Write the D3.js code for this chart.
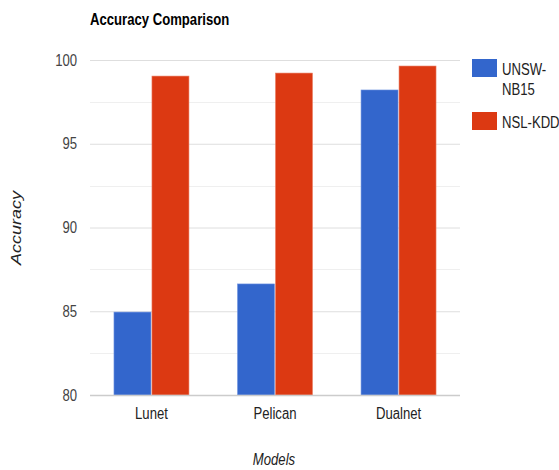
<!DOCTYPE html>
<html>
<head>
<meta charset="utf-8">
<script src="https://cdn.jsdelivr.net/npm/d3@7"></script>
<style>
  html, body { margin: 0; padding: 0; background: #fff; }
  svg { display: block; font-family: "Liberation Sans", Arial, sans-serif; }
</style>
</head>
<body>
<svg id="chart" width="559" height="470"></svg>
<script>
// Model names along the x axis
const models = ["Lunet", "Pelican", "Dualnet"];
// Series names and accuracy values (%)
const seriesNames = ["UNSW-NB15", "NSL-KDD"];
const unswValues = [84.95, 86.63, 98.21];
const nslValues = [99.04, 99.22, 99.64];
// Y axis ticks
const yTicks = [80, 85, 90, 95, 100];
const yMinorTicks = [82.5, 87.5, 92.5, 97.5];
const colors = ["#3366cc", "#dc3912"];

// Text is drawn in a condensed style: horizontal squeeze factor
const SQ = 0.82;
const FONT = "'Liberation Sans', Arial, sans-serif";
const svg = d3.select("#chart");
const plot = { left: 90, right: 460, top: 60, bottom: 395 };

const y = d3.scaleLinear().domain([80, 100]).range([plot.bottom, plot.top]);
const x0 = d3.scaleBand().domain(models).range([plot.left, plot.right])
  .paddingInner(0.385).paddingOuter(0.19);
const x1 = d3.scaleBand().domain(seriesNames).range([0, x0.bandwidth()]);

// Helper: condensed text anchored at (x, y)
function label(sel, x, yy, txt, opts = {}) {
  return sel.append("text")
    .attr("transform", `translate(${x},${yy}) scale(${SQ},1)`)
    .attr("font-family", FONT)
    .attr("font-size", opts.size || 16)
    .attr("font-weight", opts.weight || null)
    .attr("font-style", opts.style || null)
    .attr("text-anchor", opts.anchor || "start")
    .attr("fill", opts.fill || "#222")
    .text(txt);
}

// Title
label(svg, 90, 25, "Accuracy Comparison", { weight: "bold", fill: "#000" });

// Minor gridlines
svg.append("g").selectAll("line").data(yMinorTicks).join("line")
  .attr("x1", plot.left).attr("x2", plot.right)
  .attr("y1", d => Math.round(y(d)) + 0.5).attr("y2", d => Math.round(y(d)) + 0.5)
  .attr("stroke", "#efefef");

// Major gridlines + labels via axis
const yAxis = d3.axisLeft(y).tickValues(yTicks).tickSize(-(plot.right - plot.left)).tickPadding(13);
const gy = svg.append("g").attr("transform", `translate(${plot.left},0)`).call(yAxis);
gy.select(".domain").remove();
gy.selectAll(".tick line").attr("stroke", "#dedede");
gy.selectAll(".tick text").attr("font-size", 16).attr("fill", "#444")
  .attr("font-family", FONT)
  .attr("x", -13 / SQ)
  .attr("transform", `scale(${SQ},1)`);

// Bars
const data = models.map((m, i) => ({ model: m, values: [unswValues[i], nslValues[i]] }));
const groups = svg.append("g").selectAll("g").data(data).join("g")
  .attr("transform", d => `translate(${x0(d.model)},0)`);
groups.selectAll("rect")
  .data(d => d.values.map((v, j) => ({ name: seriesNames[j], value: v, j })))
  .join("rect")
  .attr("x", d => x1(d.name) + 0.5)
  .attr("width", x1.bandwidth() - 1)
  .attr("y", d => y(d.value))
  .attr("height", d => y(80) - y(d.value))
  .attr("fill", d => colors[d.j])
  .attr("stroke", d => d.j === 0 ? "#6f93e0" : "#ea7d63")
  .attr("stroke-width", 0.6);

// Baseline
svg.append("line").attr("x1", plot.left).attr("x2", plot.right)
  .attr("y1", y(80) + 0.5).attr("y2", y(80) + 0.5).attr("stroke", "#cccccc").attr("stroke-width", 1.5);

// X axis labels
const xAxis = d3.axisBottom(x0).tickSize(0).tickPadding(13);
const gx = svg.append("g").attr("transform", `translate(0,${plot.bottom})`).call(xAxis);
gx.select(".domain").remove();
gx.selectAll(".tick text").attr("font-size", 16).attr("fill", "#222")
  .attr("font-family", FONT)
  .attr("transform", `scale(${SQ},1)`);

// Axis titles
label(svg, 274, 465, "Models", { style: "italic", anchor: "middle" });
svg.append("text").attr("transform", `translate(21,228) scale(${SQ},1) rotate(-90)`)
  .attr("text-anchor", "middle")
  .attr("font-size", 18).attr("font-style", "italic").attr("fill", "#222")
  .attr("font-family", FONT).text("Accuracy");

// Legend
const legend = svg.append("g");
const legendRows = [
  { lines: ["UNSW-", "NB15"], y: 59 },
  { lines: ["NSL-KDD"], y: 112 }
];
legendRows.forEach((r, i) => {
  legend.append("rect").attr("x", 472).attr("y", r.y).attr("width", 25).attr("height", 18)
    .attr("fill", colors[i]);
  r.lines.forEach((t, k) => {
    label(legend, 502, r.y + 16 + k * 20, t);
  });
});
</script>
</body>
</html>
